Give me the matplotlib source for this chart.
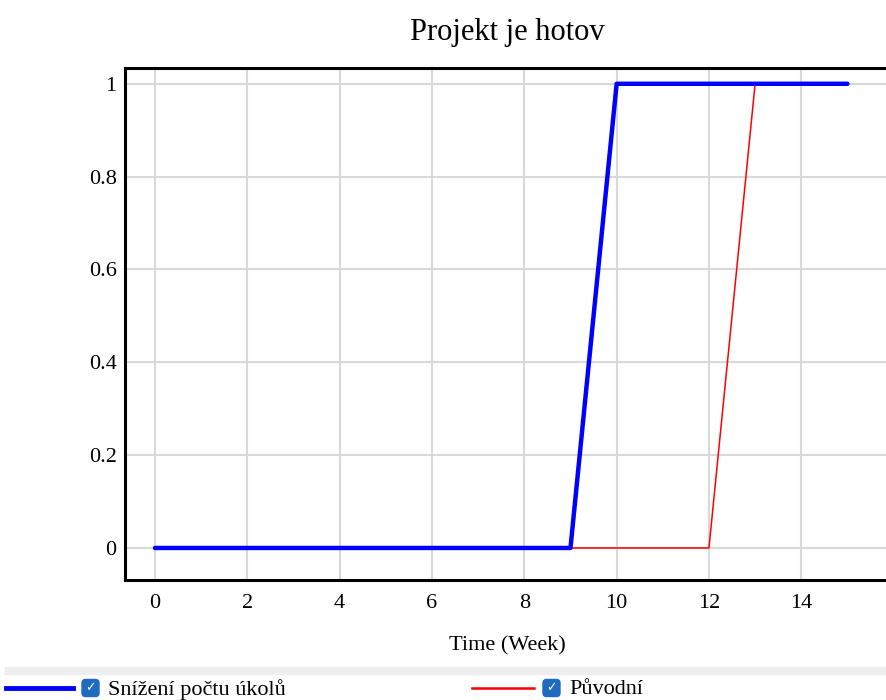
import matplotlib
matplotlib.use("Agg")
import matplotlib.pyplot as plt
from matplotlib.patches import FancyBboxPatch, Rectangle
from matplotlib.lines import Line2D

plt.rcParams['font.family'] = ['Liberation Serif', 'DejaVu Serif']

time = [0, 1, 2, 3, 4, 5, 6, 7, 8, 9, 10, 11, 12, 13, 14, 15]
snizeni = [0, 0, 0, 0, 0, 0, 0, 0, 0, 0, 1, 1, 1, 1, 1, 1]
puvodni = [0, 0, 0, 0, 0, 0, 0, 0, 0, 0, 0, 0, 0, 1, 1, 1]
xticks = [0, 2, 4, 6, 8, 10, 12, 14]
yticks = [0, 0.2, 0.4, 0.6, 0.8, 1]
ytick_labels = ['0', '0.2', '0.4', '0.6', '0.8', '1']
title = 'Projekt je hotov'
xlabel = 'Time (Week)'
series_names = ['Snížení počtu úkolů', 'Původní']

W, H = 886, 700
fig = plt.figure(figsize=(W / 100, H / 100), dpi=100)
ax = fig.add_axes([125 / W, 1 - 580 / H, (889 - 125) / W, (580 - 68) / H])

ax.plot(time, puvodni, color='#ff0000', lw=1.1, zorder=3)
ax.plot(time, snizeni, color='#0000ff', lw=3.2, zorder=4, solid_capstyle='round')

ax.set_xlim(-0.65, 15.9)
ax.set_ylim(-0.069, 1.034)
ax.set_xticks(xticks)
ax.set_yticks(yticks)
ax.set_yticklabels(ytick_labels)
ax.grid(True, color='#d9d9d9', lw=1.5)
ax.set_axisbelow(True)
ax.tick_params(length=0, labelsize=16)
ax.tick_params(axis='y', pad=6)
ax.tick_params(axis='x', pad=10)
for s in ['left', 'bottom', 'top']:
    ax.spines[s].set_linewidth(2.2)
    ax.spines[s].set_color('black')
ax.spines['right'].set_visible(False)

ax.set_title(title, fontsize=22, pad=20)
ax.set_xlabel(xlabel, fontsize=16, labelpad=17)

# legend area
fig.patches.append(Rectangle((5 / W, 1 - 674 / H), (886 - 5) / W, 7 / H,
                             transform=fig.transFigure, color='#eeeeee', zorder=0))

def legend_item(x0, x1, color, lw, cbx, tx, label):
    y = 1 - 688 / H
    fig.add_artist(Line2D([x0 / W, x1 / W], [y, y], color=color, lw=lw,
                          transform=fig.transFigure))
    bw, bh = 17 / W, 17 / H
    fig.add_artist(FancyBboxPatch((cbx / W, y - bh / 2), bw, bh,
                                  boxstyle='round,pad=0,rounding_size=0.004',
                                  transform=fig.transFigure, color='#1f6bc1',
                                  mutation_aspect=W / H))
    fig.text((cbx + 8.5) / W, y, '✓', color='white', fontsize=9,
             ha='center', va='center', family='DejaVu Sans')
    fig.text(tx / W, y - 2 / H, label, fontsize=16, ha='left', va='center')

legend_item(6, 73, '#0000ff', 3.5, 82, 108, series_names[0])
legend_item(472, 534, '#ff0000', 1.8, 543, 569, series_names[1])

fig.savefig('out.png', dpi=100)
